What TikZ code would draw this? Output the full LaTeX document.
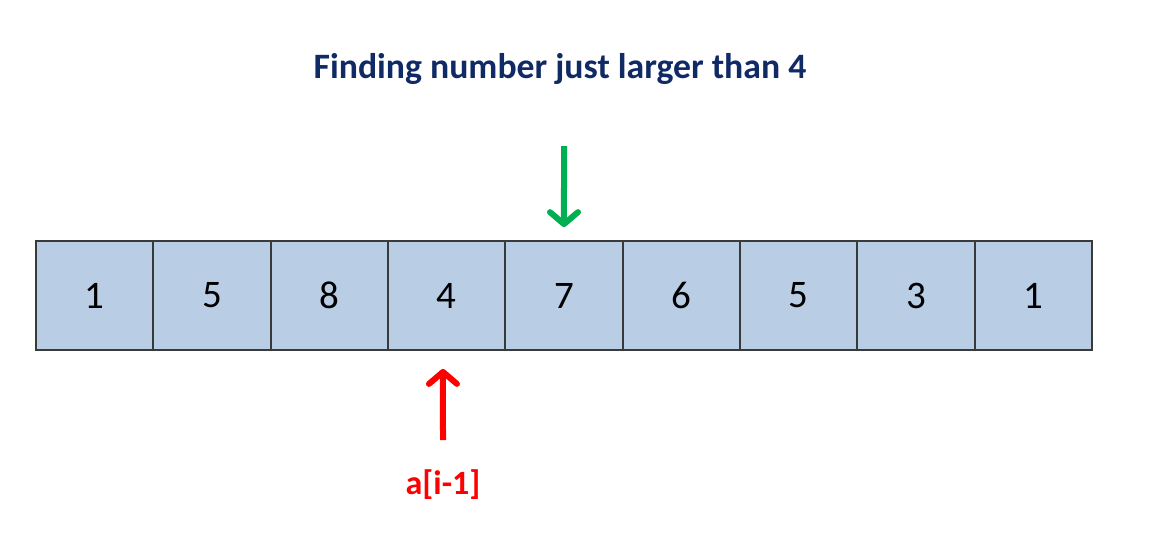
\documentclass[tikz,border=0pt]{standalone}
\usepackage{fontspec}
\setmainfont{Carlito}
\usetikzlibrary{arrows.meta}
\definecolor{cellfill}{HTML}{B9CDE5}
\definecolor{titleblue}{HTML}{102A66}
\definecolor{arrowgreen}{HTML}{00B050}
\definecolor{cellline}{HTML}{3A3A3A}
\tikzset{
  cellbox/.style={draw=cellline, line width=1.8pt, fill=cellfill, minimum width=117.33pt, minimum height=109pt, inner sep=0pt, font=\fontsize{39}{44}\selectfont},
  pointer/.style={line width=6pt, -{Straight Barb[length=12pt, width=28pt, line join=round, line cap=round]}},
}
\begin{document}
\begin{tikzpicture}[x=1pt,y=-1pt]
\useasboundingbox (0,0) rectangle (1156,547);
\node[font=\bfseries\fontsize{35.7}{42}\selectfont, text=titleblue] (title) at (560,68.5) {Finding number just larger than 4};
\foreach \v [count=\i] in {1,5,8,4,7,6,5,3,1} {
  \node[cellbox] (c\i) at ({36+117.33*(\i-0.5)},295.5) {\v};
}
\coordinate (gstart) at (564,146);
\draw[pointer, arrowgreen] (gstart) -- ([yshift=13pt]c5.north);
\node[font=\bfseries\fontsize{34}{40}\selectfont, text=red] (lbl) at (443,485) {a[i-1]};
\coordinate (rstart) at (443,440);
\draw[pointer, red] (rstart) -- ([xshift=-3.7pt,yshift=-18pt]c4.south);
\end{tikzpicture}
\end{document}
